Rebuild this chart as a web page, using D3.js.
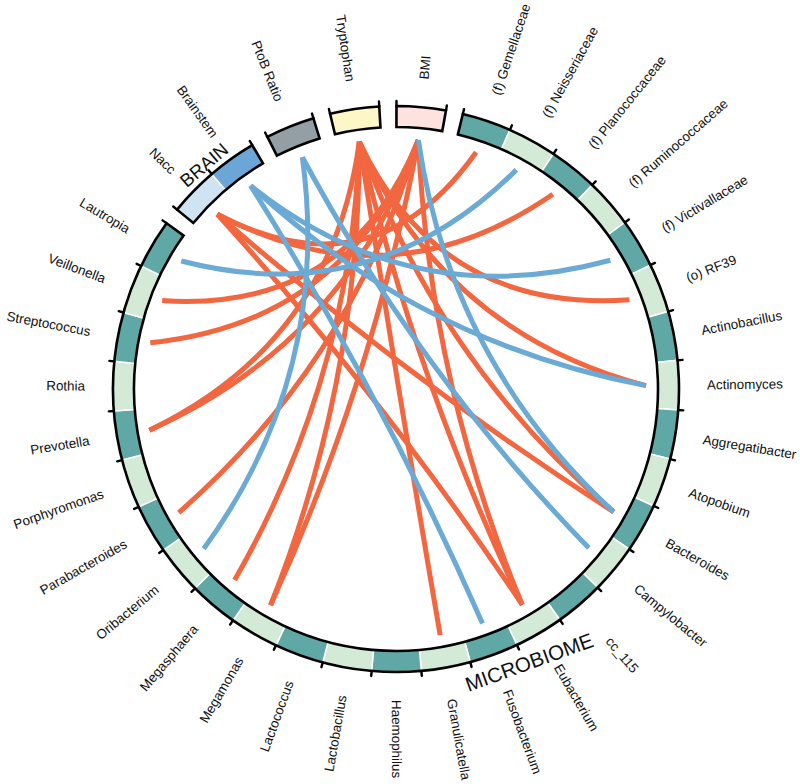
<!DOCTYPE html>
<html>
<head>
<meta charset="utf-8">
<script src="https://cdn.jsdelivr.net/npm/d3@7"></script>
<style>
  body { margin: 0; background: #fff; }
  svg { display: block; }
  text { font-family: "Liberation Sans", Arial, sans-serif; fill: #111; }
</style>
</head>
<body>
<svg id="chart" width="800" height="784"></svg>
<script>
// ------------------------------- DATA below ----------------------------------------------

// Microbiome cells, clockwise from the top
const microbes = [
  '(f) Gemellaceae', '(f) Neisseriaceae', '(f) Planococcaceae', '(f) Ruminococcaceae',
  '(f) Victivallaceae', '(o) RF39', 'Actinobacillus', 'Actinomyces', 'Aggregatibacter',
  'Atopobium', 'Bacteroides', 'Campylobacter', 'cc_115', 'Eubacterium', 'Fusobacterium',
  'Granulicatella', 'Haemophilus', 'Lactobacillus', 'Lactococcus', 'Megamonas',
  'Megasphaera', 'Oribacterium', 'Parabacteroides', 'Porphyromonas', 'Prevotella',
  'Rothia', 'Streptococcus', 'Veillonella', 'Lautropia'
];
const brainRegions = ['Nacc', 'Brainstem'];
const clinical = ['PtoB Ratio', 'Tryptophan', 'BMI'];

// Positive associations (red)
const positiveLinks = [
  ['Nacc', '(f) Gemellaceae'],
  ['Nacc', '(f) Planococcaceae'],
  ['Nacc', 'Eubacterium'],
  ['Nacc', 'Bacteroides'],
  ['Tryptophan', '(o) RF39'],
  ['Tryptophan', 'Actinomyces'],
  ['Tryptophan', 'Bacteroides'],
  ['Tryptophan', 'Eubacterium'],
  ['Tryptophan', 'Granulicatella'],
  ['Tryptophan', 'Megamonas'],
  ['Tryptophan', 'Megasphaera'],
  ['Tryptophan', 'Prevotella'],
  ['BMI', 'Eubacterium'],
  ['BMI', 'Megamonas'],
  ['BMI', 'Parabacteroides'],
  ['BMI', 'Prevotella'],
  ['BMI', 'Streptococcus'],
  ['BMI', 'Veillonella']
];

// Negative associations (blue)
const negativeLinks = [
  ['Lautropia', '(f) Neisseriaceae'],
  ['Brainstem', '(f) Victivallaceae'],
  ['Brainstem', 'Actinomyces'],
  ['Brainstem', 'Fusobacterium'],
  ['PtoB Ratio', 'Campylobacter'],
  ['PtoB Ratio', 'Oribacterium'],
  ['BMI', 'Bacteroides']
];

// ------------------------------- STYLE below ----------------------------------------------

const cellColors = {
  Nacc: '#d0e3f3',
  Brainstem: '#6ca6d7',
  'PtoB Ratio': '#939fa4',
  Tryptophan: '#fdf6c6',
  BMI: '#fde2df'
};
const microbeColors = ['#5fa8a5', '#d3ebd6']; // alternating
const red = '#f26640';
const blue = '#6aaad5';

// labels pushed outwards so they clear the MICROBIOME title
const labelNudge = { cc_115: 17, Eubacterium: 9, Fusobacterium: 10, Granulicatella: 4 };

// ------------------------------- LAYOUT below ----------------------------------------------

const cx = 396;
const cy = 389;
const rIn = 262;
const rOut = 283;
const rLink = 250;
const rLabel = 311;
const gapUnits = 0.3464; // gap between sectors, in cell widths
const startAngle = (13.66 * Math.PI) / 180; // d3 angle (0 = top, clockwise)
const bend = 0.45; // control point = bend * chord midpoint

const sectors = [
  { name: 'MICROBIOME', cells: microbes },
  { name: 'BRAIN', cells: brainRegions },
  { name: '', cells: [clinical[0]] },
  { name: '', cells: [clinical[1]] },
  { name: '', cells: [clinical[2]] }
];

let pos = 0;
const cells = [];
sectors.forEach((s) => {
  s.u0 = pos;
  s.cells.forEach((c, i) => {
    cells.push({ name: c, sector: s.name, index: i, u0: pos, u1: pos + 1 });
    pos += 1;
  });
  s.u1 = pos;
  pos += gapUnits;
});

const angle = d3
  .scaleLinear()
  .domain([0, pos])
  .range([startAngle, startAngle + 2 * Math.PI]);

const cellByName = new Map(cells.map((c) => [c.name, c]));

function point(a, r) {
  return [r * Math.sin(a), -r * Math.cos(a)];
}

function fillOf(c) {
  if (c.sector === 'MICROBIOME') return microbeColors[c.index % 2];
  return cellColors[c.name];
}

// ------------------------------- DRAWING below ----------------------------------------------

const svg = d3.select('#chart');
const g = svg.append('g').attr('transform', `translate(${cx},${cy})`);

// Links (red first, blue drawn on top)
const links = [];
positiveLinks.forEach((d) => links.push({ from: d[0], to: d[1], color: red }));
negativeLinks.forEach((d) => links.push({ from: d[0], to: d[1], color: blue }));

function linkPath(d) {
  const c1 = cellByName.get(d.from);
  const c2 = cellByName.get(d.to);
  const p0 = point(angle((c1.u0 + c1.u1) / 2), rLink);
  const p1 = point(angle((c2.u0 + c2.u1) / 2), rLink);
  const ctrl = [((p0[0] + p1[0]) / 2) * bend, ((p0[1] + p1[1]) / 2) * bend];
  const p = d3.path();
  p.moveTo(p0[0], p0[1]);
  p.quadraticCurveTo(ctrl[0], ctrl[1], p1[0], p1[1]);
  return p.toString();
}

g.append('g')
  .attr('class', 'links')
  .selectAll('path')
  .data(links)
  .join('path')
  .attr('d', linkPath)
  .attr('fill', 'none')
  .attr('stroke', (d) => d.color)
  .attr('stroke-width', 5);

// Cells
const cellArc = d3
  .arc()
  .innerRadius(rIn)
  .outerRadius(rOut)
  .startAngle((d) => angle(d.u0))
  .endAngle((d) => angle(d.u1));

g.append('g')
  .attr('class', 'cells')
  .selectAll('path')
  .data(cells)
  .join('path')
  .attr('d', cellArc)
  .attr('fill', fillOf)
  .attr('stroke', '#fff')
  .attr('stroke-width', 1.5);

// Sector borders
g.append('g')
  .attr('class', 'borders')
  .selectAll('path')
  .data(sectors)
  .join('path')
  .attr('d', cellArc)
  .attr('fill', 'none')
  .attr('stroke', '#000')
  .attr('stroke-width', 2.6);

// Ticks at every cell boundary
const ticks = [];
sectors.forEach((s) => {
  for (let u = s.u0; u <= s.u1 + 1e-9; u += 1) ticks.push(u);
});

g.append('g')
  .attr('class', 'ticks')
  .selectAll('line')
  .data(ticks)
  .join('line')
  .attr('x1', (u) => point(angle(u), rOut)[0])
  .attr('y1', (u) => point(angle(u), rOut)[1])
  .attr('x2', (u) => point(angle(u), rOut + 5)[0])
  .attr('y2', (u) => point(angle(u), rOut + 5)[1])
  .attr('stroke', '#000')
  .attr('stroke-width', 2.4)
  .attr('stroke-linecap', 'round');

// Cell labels (radial)
function labelDeg(d) {
  return (angle((d.u0 + d.u1) / 2) * 180) / Math.PI - 90;
}
function onLeft(d) {
  const norm = ((labelDeg(d) % 360) + 360) % 360;
  return norm > 90 && norm < 270;
}

g.append('g')
  .attr('class', 'labels')
  .selectAll('text')
  .data(cells)
  .join('text')
  .attr('transform', (d) => {
    const r = rLabel + (labelNudge[d.name] || 0);
    return onLeft(d)
      ? `rotate(${labelDeg(d)}) translate(${r},0) rotate(180)`
      : `rotate(${labelDeg(d)}) translate(${r},0)`;
  })
  .attr('text-anchor', (d) => (onLeft(d) ? 'end' : 'start'))
  .attr('dy', '0.35em')
  .attr('font-size', 13.4)
  .text((d) => d.name);

// Sector titles
const brain = sectors[1];
const brainMid = angle((brain.u0 + brain.u1) / 2);
const bp = point(brainMid, 295);
g.append('text')
  .attr('transform', `translate(${bp[0]},${bp[1]}) rotate(${(brainMid * 180) / Math.PI})`)
  .attr('text-anchor', 'middle')
  .attr('dy', '0.35em')
  .attr('font-size', 18.5)
  .text(brain.name);

const microAngle = ((64 + 90) * Math.PI) / 180;
const mp = point(microAngle, 304);
g.append('text')
  .attr('transform', `translate(${mp[0]},${mp[1]}) rotate(-20)`)
  .attr('text-anchor', 'middle')
  .attr('dy', '0.35em')
  .attr('font-size', 20.5)
  .text(sectors[0].name);
</script>
</body>
</html>
